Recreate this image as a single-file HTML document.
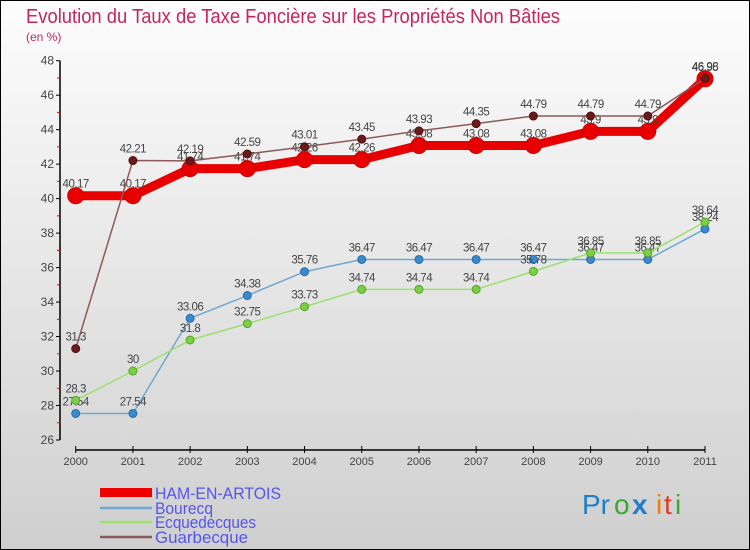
<!DOCTYPE html>
<html><head><meta charset="utf-8"><style>
body{margin:0}
svg{display:block;font-family:"Liberation Sans",sans-serif}
</style></head><body>
<svg id="chart" width="750" height="550" viewBox="0 0 750 550">
<defs><linearGradient id="bg" x1="0" y1="0" x2="0" y2="1"><stop offset="0" stop-color="#fdfdfd"/><stop offset="1" stop-color="#cfcfcf"/></linearGradient></defs>
<rect x="0.5" y="0.5" width="749" height="549" fill="url(#bg)" stroke="#000"/>
<text x="26" y="23" font-size="20" fill="#c8245e" textLength="534" lengthAdjust="spacingAndGlyphs">Evolution du Taux de Taxe Foncière sur les Propriétés Non Bâties</text>
<text x="26" y="41" font-size="12" fill="#c8245e">(en %)</text>
<g id="axes"></g><g id="series"></g>
<g>
<rect x="100" y="488" width="52" height="9" fill="#e00"/>
<text x="155" y="499" font-size="17" fill="#5555ee" textLength="126" lengthAdjust="spacingAndGlyphs">HAM-EN-ARTOIS</text>
<line x1="100" y1="508" x2="152" y2="508" stroke="#6fa8d0" stroke-width="2.5"/>
<text x="155" y="514" font-size="17" fill="#5555ee" textLength="58" lengthAdjust="spacingAndGlyphs">Bourecq</text>
<line x1="100" y1="522" x2="152" y2="522" stroke="#9be070" stroke-width="2.5"/>
<text x="155" y="528" font-size="17" fill="#5555ee" textLength="101" lengthAdjust="spacingAndGlyphs">Ecquedecques</text>
<line x1="100" y1="537" x2="152" y2="537" stroke="#8c5a5a" stroke-width="2.5"/>
<text x="155" y="543" font-size="17" fill="#5555ee" textLength="93" lengthAdjust="spacingAndGlyphs">Guarbecque</text>
</g>
<g font-size="28">
<text x="582" y="514" fill="#1e7fc8">Pr</text><text x="614" y="514" fill="#3aa830">o</text><text x="632" y="514" fill="#1e7fc8" font-weight="bold">x</text><text x="656" y="514" fill="#f07a10">i</text><text x="664" y="514" fill="#e23a20">t</text><text x="675" y="514" fill="#3aa830">i</text>
</g>
</svg>
<script>
const years=["2000","2001","2002","2003","2004","2005","2006","2007","2008","2009","2010","2011"];
const yTicks=[26,28,30,32,34,36,38,40,42,44,46,48];
const ham=[40.17,40.17,41.74,41.74,42.26,42.26,43.08,43.08,43.08,43.9,43.9,46.95];
const bourecq=[27.54,27.54,33.06,34.38,35.76,36.47,36.47,36.47,36.47,36.47,36.47,38.24];
const ecquedecques=[28.3,30,31.8,32.75,33.73,34.74,34.74,34.74,35.78,36.85,36.85,38.64];
const guarbecque=[31.3,42.21,42.19,42.59,43.01,43.45,43.93,44.35,44.79,44.79,44.79,46.98];
const NS="http://www.w3.org/2000/svg";
const X=i=>75.7+i*(705-75.7)/(years.length-1);
const Y=v=>440-(v-26)*(440-60.7)/22;
function mk(t,a,p){const e=document.createElementNS(NS,t);for(const k in a)e.setAttribute(k,a[k]);p.appendChild(e);return e;}
const ax=document.getElementById('axes');
let e=mk('line',{x1:60,y1:Y(48),x2:60,y2:Y(26),stroke:'#000','stroke-width':1.5},ax);


e=mk('line',{x1:X(0),y1:450,x2:X(11),y2:450,stroke:'#000','stroke-width':1.5},ax);


yTicks.forEach((v,i)=>{
 mk('line',{x1:56,y1:Y(v),x2:60,y2:Y(v),stroke:'#000'},ax);
 if(i<yTicks.length-1) mk('line',{x1:57,y1:Y(v+1),x2:60,y2:Y(v+1),stroke:'#e00'},ax);
 const t=mk('text',{x:54,y:Y(v)+4,'font-size':12,fill:'#444','text-anchor':'end'},ax);t.textContent=v;
 
 
});
years.forEach((y,i)=>{
 mk('line',{x1:X(i),y1:446,x2:X(i),y2:453,stroke:'#000'},ax);
 const t=mk('text',{x:X(i),y:465,'font-size':11,fill:'#444','text-anchor':'middle'},ax);t.textContent=y;
 
 
});
const sg=document.getElementById('series');
function series(name,vals,color,w,r,dot,stroke){
 const g=mk('g',{},sg);
 
 
 const l=mk('polyline',{points:vals.map((v,i)=>X(i)+','+Y(v)).join(' '),fill:'none',stroke:color,'stroke-width':w,'stroke-linejoin':'round'},g);
 
 
 vals.forEach((v,i)=>{
  const c=mk('circle',{cx:X(i),cy:Y(v),r:r,fill:dot,stroke:stroke,'stroke-width':1},g);
  
  
  const t=mk('text',{x:X(i),y:Y(v)-8,'font-size':11.5,fill:'#444','text-anchor':'middle','letter-spacing':'-0.5'},g);
  t.textContent=v;
  
  
 });
}
series('ham',ham,'#e80000',9,8,'#e80000','#c00');
series('bourecq',bourecq,'#6fa8d0',1.5,4,'#3a8ad0','#2a6aa0');
series('ecquedecques',ecquedecques,'#9be070',1.5,4,'#7ad040','#5aa030');
series('guarbecque',guarbecque,'#8c5a5a',1.5,4,'#6a1a1a','#501010');
</script>
</body></html>
